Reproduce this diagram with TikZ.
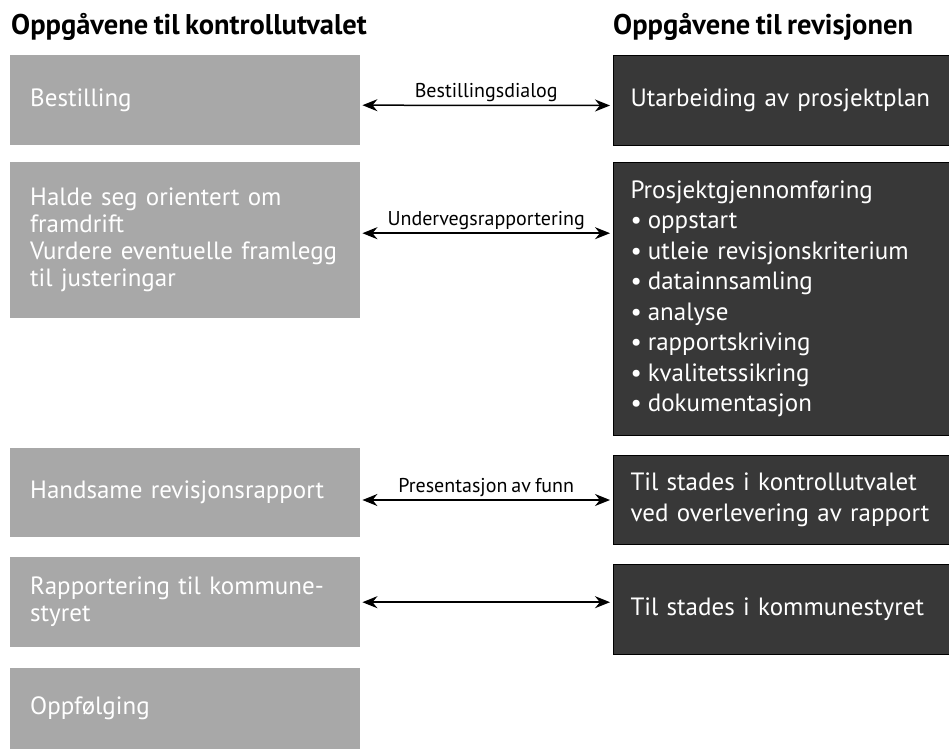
\documentclass[tikz,border=0pt]{standalone}
\usepackage{fontspec}
\setmainfont[WordSpace=0.75]{PT Sans}
\usetikzlibrary{arrows.meta}
\colorlet{lgx}{black!34}
\colorlet{dgx}{black!78}
\tikzset{
    kbox/.style={fill=lgx,text=white,anchor=north west,inner xsep=20pt,inner ysep=0pt,
        text width=310pt,minimum height=90pt,align=left,font=\fontsize{25}{27}\selectfont},
    rbox/.style={fill=dgx,draw=black,line width=1pt,text=white,anchor=north west,inner xsep=17pt,
        inner ysep=0pt,text width=330pt,minimum height=90pt,align=left,font=\fontsize{25}{30.5}\selectfont},
    coltitle/.style={anchor=base west,inner sep=0pt,font=\bfseries\fontsize{28.5}{32}\selectfont},
    link/.style={{Stealth[length=15pt,width=12pt]}-{Stealth[length=15pt,width=12pt]},line width=1.5pt},
    lab/.style={above=3pt,inner sep=0pt,font=\fontsize{20}{24}\selectfont}
}
\begin{document}
\begin{tikzpicture}[x=1pt,y=-1pt]
    \useasboundingbox (0,0) rectangle (949,749);
    \node [coltitle] (tk) at (11,35) {Oppgåvene til kontrollutvalet};
    \node [coltitle] (tr) at (613,35) {Oppgåvene til revisjonen};
    \node [kbox] (k1) at (10,55) {Bestilling};
    \node [kbox,minimum height=156pt] (k2) at (10,162) {Halde seg orientert om\\framdrift\\Vurdere eventuelle framlegg\\til justeringar};
    \node [kbox,minimum height=89pt] (k3) at (10,448) {Handsame revisjonsrapport};
    \node [kbox] (k4) at (10,557) {Rapportering til kommune-\\styret};
    \node [kbox,minimum height=81pt] (k5) at (10,668) {Oppfølging};
    \node [rbox] (r1) at (613,55) {Utarbeiding av prosjektplan};
    \node [rbox,minimum height=273pt] (r2) at (613,162) {Prosjektgjennomføring\\
        \textbullet\hspace{6pt}oppstart\\
        \textbullet\hspace{6pt}utleie revisjonskriterium\\
        \textbullet\hspace{6pt}datainnsamling\\
        \textbullet\hspace{6pt}analyse\\
        \textbullet\hspace{6pt}rapportskriving\\
        \textbullet\hspace{6pt}kvalitetssikring\\
        \textbullet\hspace{6pt}dokumentasjon};
    \node [rbox,minimum height=89pt] (r3) at (613,455) {Til stades i kontrollutvalet\\ved overlevering av rapport};
    \node [rbox] (r4) at (613,564) {Til stades i kommunestyret};
    \draw [link] ([xshift=2pt,yshift=-5pt]k1.east) -- ([xshift=-3pt,yshift=-5pt]r1.west) node [midway,lab] {Bestillingsdialog};
    \draw [link] ([xshift=2pt,yshift=7pt]k2.east) -- ([xshift=-3pt,yshift=7pt]k2.east -| r2.west) node [midway,lab] {Undervegsrapportering};
    \draw [link] ([xshift=2pt]r3.west -| k3.east) -- ([xshift=-3pt]r3.west) node [midway,lab] {Presentasjon av funn};
    \draw [link] ([xshift=2pt]k4.east) -- ([xshift=-3pt]k4.east -| r4.west);
\end{tikzpicture}
\end{document}
